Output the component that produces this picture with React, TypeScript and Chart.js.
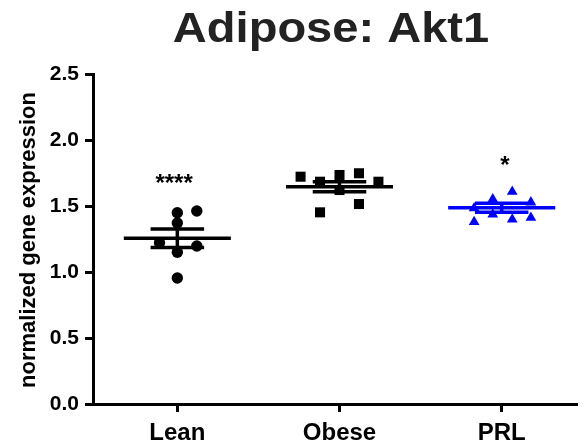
import React, { useEffect, useRef } from "react";
import { Chart, registerables } from "chart.js";

Chart.register(...registerables);

const chartTitle = "Adipose: Akt1";
const yAxisTitle = "normalized gene expression";
const categories = ["Lean", "Obese", "PRL"];
const yTicks = [0, 0.5, 1.0, 1.5, 2.0, 2.5];

const leanValues = [1.449, 1.462, 1.371, 1.222, 1.197, 1.15, 0.955];
const leanJitter = [0, 0.12, 0, -0.11, 0.12, 0, 0];
const obeseValues = [1.722, 1.684, 1.735, 1.748, 1.684, 1.621, 1.452, 1.515];
const obeseJitter = [-0.24, -0.12, 0, 0.12, 0.24, 0, -0.12, 0.12];
const prlValues = [1.609, 1.551, 1.528, 1.483, 1.437, 1.38, 1.399, 1.412];
const prlJitter = [0.065, -0.055, 0.18, -0.17, -0.055, -0.17, 0.065, 0.18];

const groupMeans = [1.255, 1.646, 1.487];
const groupSems = [0.07, 0.038, 0.034];

const sigLabels = ["****", "", "*"];
const sigY = [1.72, 0, 1.85];
const sigJitter = [-0.02, 0, 0.02];

const FONT = "'Liberation Sans', Arial, Helvetica, sans-serif";
const BLACK = "#000000";
const BLUE = "#0000ff";

const groupColors = [BLACK, BLACK, BLUE];
const groupStyles = ["circle", "rect", "triangle"];
const groupRadius = [5.7, 7.1, 6.2];

export default function App() {
  const ref = useRef<HTMLCanvasElement | null>(null);

  useEffect(() => {
    const canvas = ref.current;
    if (!canvas) return;

    const groups = [
      { values: leanValues, jitter: leanJitter },
      { values: obeseValues, jitter: obeseJitter },
      { values: prlValues, jitter: prlJitter },
    ];

    const lineDatasets: any[] = [];
    groupMeans.forEach((m, i) => {
      const c = i + 1;
      const s = groupSems[i];
      const col = groupColors[i];
      const base = {
        showLine: true,
        pointRadius: 0,
        borderColor: col,
        backgroundColor: col,
        borderWidth: 3.5,
        borderCapStyle: "butt",
      };
      lineDatasets.push({ ...base, data: [{ x: c - 0.33, y: m }, { x: c + 0.33, y: m }] });
      lineDatasets.push({ ...base, data: [{ x: c - 0.165, y: m + s }, { x: c + 0.165, y: m + s }] });
      lineDatasets.push({ ...base, data: [{ x: c - 0.165, y: m - s }, { x: c + 0.165, y: m - s }] });
      lineDatasets.push({ ...base, data: [{ x: c, y: m - s }, { x: c, y: m + s }] });
    });

    const pointDatasets = groups.map((g, i) => ({
      data: g.values.map((v, j) => ({ x: i + 1 + g.jitter[j], y: v })),
      pointStyle: groupStyles[i],
      pointRadius: groupRadius[i],
      pointBackgroundColor: groupColors[i],
      pointBorderColor: groupColors[i],
      pointBorderWidth: 0,
      showLine: false,
    }));

    const textPlugin = {
      id: "textPlugin",
      afterDraw(chart: any) {
        const ctx = chart.ctx;
        const xs = chart.scales.x;
        const ys = chart.scales.y;
        const area = chart.chartArea;
        ctx.save();
        ctx.fillStyle = "#222222";
        ctx.font = `bold 42px ${FONT}`;
        ctx.textAlign = "center";
        ctx.textBaseline = "alphabetic";
        ctx.translate(331, 42);
        ctx.scale(1.12, 1);
        ctx.fillText(chartTitle, 0, 0);
        ctx.restore();

        ctx.save();
        ctx.fillStyle = BLACK;
        ctx.font = `bold 22px ${FONT}`;
        ctx.textAlign = "center";
        ctx.textBaseline = "alphabetic";
        ctx.translate(35, (area.top + area.bottom) / 2 + 1);
        ctx.rotate(-Math.PI / 2);
        ctx.fillText(yAxisTitle, 0, 0);
        ctx.restore();

        ctx.save();
        ctx.fillStyle = BLACK;
        ctx.font = `bold 24px ${FONT}`;
        ctx.textAlign = "center";
        ctx.textBaseline = "alphabetic";
        sigLabels.forEach((lab, i) => {
          if (!lab) return;
          const px = xs.getPixelForValue(i + 1 + sigJitter[i]);
          const py = ys.getPixelForValue(sigY[i]);
          ctx.fillText(lab, px, py + 24 * 0.57);
        });
        ctx.restore();
      },
    };

    const chart = new Chart(canvas, {
      type: "scatter",
      data: { datasets: [...lineDatasets, ...pointDatasets] as any },
      options: {
        animation: false,
        responsive: false,
        devicePixelRatio: 1,
        layout: { padding: { top: 74, right: 3, left: 0, bottom: 0 } },
        plugins: {
          legend: { display: false },
          tooltip: { enabled: false },
          title: { display: false },
        },
        elements: { line: { tension: 0 } },
        scales: {
          x: {
            type: "linear",
            min: 0.48,
            max: 3.47,
            afterBuildTicks: (scale: any) => {
              scale.ticks = categories.map((_, i) => ({ value: i + 1 }));
            },
            afterFit: (scale: any) => {
              scale.height = 43;
            },
            ticks: {
              autoSkip: false,
              maxRotation: 0,
              padding: 7,
              color: BLACK,
              font: { family: FONT, size: 24, weight: "bold" },
              callback: (v: any) => categories[Math.round(v) - 1] ?? "",
            },
            grid: {
              drawOnChartArea: false,
              drawTicks: true,
              tickLength: 8,
              tickWidth: 3,
              tickColor: BLACK,
            },
            border: { display: true, color: BLACK, width: 3 },
          },
          y: {
            type: "linear",
            min: 0,
            max: 2.5,
            afterBuildTicks: (scale: any) => {
              scale.ticks = yTicks.map((v) => ({ value: v }));
            },
            afterFit: (scale: any) => {
              scale.width = 93;
            },
            ticks: {
              padding: 6,
              color: BLACK,
              font: { family: FONT, size: 21, weight: "bold" },
              callback: (v: any) => Number(v).toFixed(1),
            },
            grid: {
              drawOnChartArea: false,
              drawTicks: true,
              tickLength: 8,
              tickWidth: 3,
              tickColor: BLACK,
            },
            border: { display: true, color: BLACK, width: 3 },
          },
        },
      } as any,
      plugins: [textPlugin],
    });

    return () => chart.destroy();
  }, []);

  return (
    <div style={{ position: "fixed", left: 0, top: 0, width: 585, height: 447, background: "#fff" }}>
      <canvas ref={ref} width={585} height={447} style={{ width: 585, height: 447, display: "block" }} />
    </div>
  );
}
